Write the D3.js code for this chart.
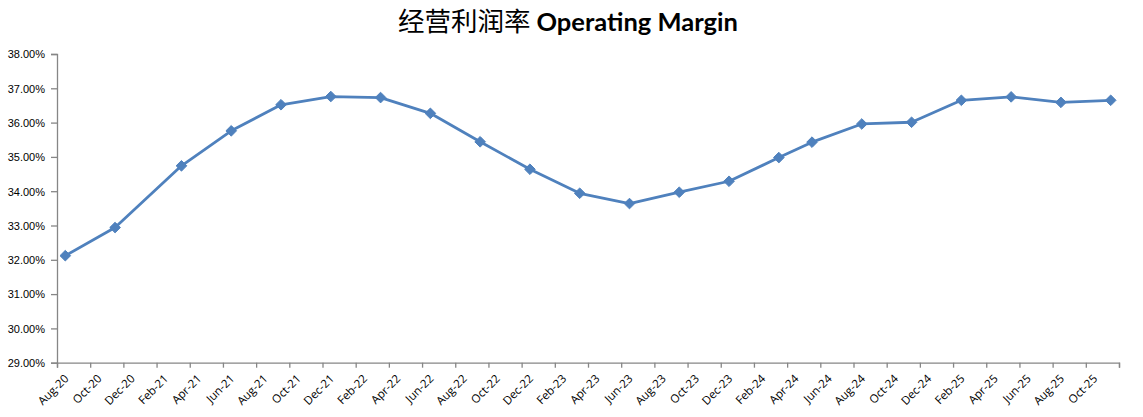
<!DOCTYPE html>
<html><head><meta charset="utf-8">
<script src="https://cdn.jsdelivr.net/npm/d3@7/dist/d3.min.js"></script>
<style>body{margin:0;background:#fff}svg{display:block}</style>
</head><body>
<svg id="c" width="1143" height="417"></svg>
<script>
// ---- data ----
const pointMonths = ["Aug-20","Nov-20","Mar-21","Jun-21","Sep-21","Dec-21","Mar-22","Jun-22","Sep-22","Dec-22","Mar-23","Jun-23","Sep-23","Dec-23","Mar-24","May-24","Aug-24","Nov-24","Feb-25","May-25","Aug-25","Nov-25"];
const marginValues = [32.12, 32.94, 34.74, 35.76, 36.52, 36.76, 36.73, 36.27, 35.44, 34.64, 33.94, 33.64, 33.97, 34.29, 34.98, 35.43, 35.96, 36.01, 36.65, 36.75, 36.59, 36.65];
const tickLabels = ["Aug-20","Oct-20","Dec-20","Feb-21","Apr-21","Jun-21","Aug-21","Oct-21","Dec-21","Feb-22","Apr-22","Jun-22","Aug-22","Oct-22","Dec-22","Feb-23","Apr-23","Jun-23","Aug-23","Oct-23","Dec-23","Feb-24","Apr-24","Jun-24","Aug-24","Oct-24","Dec-24","Feb-25","Apr-25","Jun-25","Aug-25","Oct-25"];
const yTicks = [29,30,31,32,33,34,35,36,37,38];
const titleCn = "经营利润率";
const titleEn = "Operating Margin";

// ---- helpers ----
const MON = ["Jan","Feb","Mar","Apr","May","Jun","Jul","Aug","Sep","Oct","Nov","Dec"];
function monthIndex(lbl){ // months since Aug-20
  const [m,y] = lbl.split("-");
  return (2000 + (+y)) * 12 + MON.indexOf(m) - (2020*12 + 7);
}

const svg = d3.select("#c");
const L = 57, R = 1119, T = 54, B = 362.7;
const totalMonths = tickLabels.length * 2;
const x = d3.scaleLinear().domain([0, totalMonths]).range([L, R]);
const y = d3.scaleLinear().domain([29, 38]).range([B, T]);
const axisColor = "#868686";

// title
const title = svg.append("text").attr("x", 568).attr("y", 31).attr("text-anchor","middle");
title.append("tspan").attr("font-family","'Noto Sans CJK SC'").attr("font-size",26.5).attr("fill","#000").text(titleCn + " ");
title.append("tspan").attr("font-family","Lato, 'Open Sans', sans-serif").attr("font-weight","bold").attr("font-size",25.5).attr("fill","#000").text(titleEn);

// y axis
const yAxis = svg.append("g").attr("transform",`translate(${L},0)`)
  .call(d3.axisLeft(y).tickValues(yTicks).tickSize(6).tickFormat(d => d.toFixed(2) + "%"));
yAxis.select(".domain").attr("stroke", axisColor).attr("stroke-width",1.3);
yAxis.selectAll(".tick line").attr("stroke", axisColor).attr("stroke-width",1.3);
yAxis.selectAll(".tick text").attr("font-family","'Liberation Sans', Arial, sans-serif").attr("font-size",11).attr("fill","#000").attr("x",-12).attr("dy","0.35em");

// x axis
const xTickVals = d3.range(0, totalMonths + 1, 2);
const xAxis = svg.append("g").attr("transform",`translate(0,${B})`)
  .call(d3.axisBottom(x).tickValues(xTickVals).tickSize(5).tickFormat(""));
xAxis.select(".domain").attr("stroke", axisColor).attr("stroke-width",1.3);
xAxis.selectAll(".tick line").attr("stroke", axisColor).attr("stroke-width",1.3);

svg.append("g").selectAll("text").data(tickLabels).join("text")
  .attr("transform", (d,i) => `translate(${x(i*2+1) - 10},${B + 11}) rotate(-45)`)
  .attr("text-anchor","end")
  .attr("dy","0.7em")
  .attr("font-family","'Open Sans', sans-serif")
  .attr("font-size",11.5)
  .attr("fill","#000")
  .text(d => d);

// line
const pts = pointMonths.map((m,i) => ({m: monthIndex(m) + 0.5, v: marginValues[i]}));
const color = "#4F81BD";
svg.append("path").datum(pts)
  .attr("fill","none").attr("stroke", color).attr("stroke-width",2.8).attr("stroke-linejoin","round")
  .attr("d", d3.line().x(d => x(d.m)).y(d => y(d.v)));

svg.append("g").selectAll("path").data(pts).join("path")
  .attr("transform", d => `translate(${x(d.m)},${y(d.v)})`)
  .attr("d", d3.symbol(d3.symbolDiamond2, 72))
  .attr("fill", color).attr("stroke", color).attr("stroke-width",1);
</script>
</body></html>
